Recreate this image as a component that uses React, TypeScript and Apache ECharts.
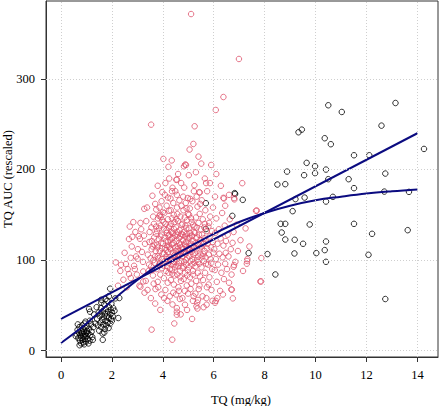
import React, { useEffect, useRef } from "react";
import * as echarts from "echarts";

const xTicks = [0, 2, 4, 6, 8, 10, 12, 14];
const yTicks = [0, 100, 200, 300];

// Black: low-dose group and high-dose scattered points
const blackPoints: [number, number][] = [
  [0.62, 18], [0.65, 23], [0.68, 14], [0.7, 20], [0.72, 26], [0.74, 11], [0.76, 17], [0.78, 22], [0.79, 8], [0.8, 14],
  [0.82, 19], [0.83, 28], [0.85, 12], [0.86, 24], [0.88, 16], [0.9, 21], [0.91, 7], [0.92, 30], [0.94, 13], [0.95, 18],
  [0.97, 25], [0.98, 10], [1.0, 16], [1.02, 22], [1.03, 27], [1.05, 13], [1.07, 19], [1.1, 24], [1.12, 11], [1.15, 17],
  [1.18, 29], [1.2, 21], [1.23, 15], [1.27, 26], [0.58, 16], [0.66, 29], [0.73, 6], [0.87, 9], [0.96, 32], [1.08, 8],
  [1.13, 33], [1.25, 12], [0.84, 20], [0.93, 16], [1.0, 20],
  [1.42, 35], [1.45, 28], [1.48, 42], [1.5, 22], [1.52, 38], [1.55, 31], [1.57, 47], [1.58, 26], [1.6, 40], [1.62, 34],
  [1.63, 19], [1.65, 44], [1.67, 29], [1.68, 37], [1.7, 51], [1.72, 24], [1.73, 41], [1.75, 33], [1.77, 46], [1.78, 28],
  [1.8, 38], [1.82, 55], [1.83, 31], [1.85, 43], [1.87, 25], [1.88, 36], [1.9, 48], [1.92, 40], [1.93, 30], [1.95, 45],
  [1.97, 35], [1.98, 52], [2.0, 42], [2.03, 38], [2.05, 47], [1.64, 12], [1.4, 48], [1.58, 53], [1.75, 57], [1.88, 60],
  [2.1, 44], [2.25, 36], [1.93, 68.4], [2.29, 58.1], [2.13, 57.7], [1.58, 56.2], [1.1, 46], [1.14, 43], [1.35, 30], [1.3, 40],
  [2.0, 33], [1.7, 20],
  [10.5, 270.9], [13.14, 273.4], [11.03, 263.5], [12.59, 248.4], [9.33, 241.1], [9.46, 244], [10.36, 234.5], [10.6, 227.9],
  [14.26, 222.7], [11.51, 215.7], [12.11, 215.7], [9.65, 207.3], [9.98, 203.6], [8.88, 197.7], [10.41, 199.9], [9.98, 195.9],
  [9.55, 193.7], [12.74, 195.5], [10.5, 189.3], [11.3, 189.3], [8.5, 183.4], [8.81, 183.8], [11.51, 179.4], [6.82, 173.9],
  [9.57, 169], [10.68, 169.8], [12.7, 175.6], [13.67, 175.3], [7.14, 166.5], [9.21, 167.3], [10.41, 164.6], [6.73, 148.8],
  [9.1, 154], [8.63, 140], [8.81, 140], [9.77, 139.3], [11.51, 140], [8.67, 130.4], [12.22, 129], [13.62, 133],
  [8.81, 122.7], [9.18, 122.4], [9.51, 118], [10.41, 120.5], [10.36, 111], [7.37, 107.7], [8.11, 106.6], [9.17, 107.3],
  [10.03, 107.7], [12.08, 105.8], [10.41, 98.1], [8.42, 84.1], [12.74, 57], [5.69, 162.8], [5.69, 134.2], [6.84, 173],
];

// Red: mid-dose group
const redPoints: [number, number][] = [
  [5.11, 371.6], [3.54, 249.5], [6.08, 265.7], [5.25, 247.7], [5.2, 228.2], [4.02, 211.7], [5.4, 214.2], [5.51, 206.5],
  [4.22, 202.9], [4.83, 203.5], [4.88, 205.5], [5.02, 193.7], [4.53, 188.5], [5.24, 182.7], [3.98, 175], [4.38, 179.8],
  [4.36, 176], [5.45, 174.5], [4.2, 169], [4.98, 168.5], [5.08, 167.5], [6.99, 322], [6.38, 280], [7.12, 184.9],
  [6.38, 168.7], [6.8, 168.4], [7.66, 154.4], [7.87, 102.2], [7.32, 101], [7.3, 96], [7.83, 76.4], [6.69, 67.6],
  [6.75, 57.7], [6.78, 92.6], [6.8, 94.5], [3.56, 23.2], [4.37, 12.1], [4.55, 43], [4.55, 47], [3.27, 156.6],
  [3.74, 155.8], [4.0, 153], [4.24, 154.4], [4.57, 150.7], [3.86, 148.8], [3.92, 147.5], [2.84, 141.9], [2.67, 123.2],
  [2.8, 125.7], [3.05, 126.5], [3.1, 123.5], [2.15, 97.4], [2.36, 94.8], [2.55, 95.6], [2.87, 93.7], [2.9, 90],
  [3.01, 101.4], [2.45, 78.3], [2.67, 84.6], [2.74, 80.2], [3.08, 71.7], [3.12, 70.5], [3.23, 76.4], [2.24, 71.7],
  [3.23, 87.4], [2.74, 102.5], [6.71, 67.3], [6.05, 52.9], [6.08, 55], [5.72, 50.7], [5.35, 53], [5.38, 56],
  [5.32, 49], [5.36, 46.5], [4.87, 50.7], [4.55, 39.7], [7.86, 76.4], [7.31, 99], [7.69, 154.7], [6.81, 167],
  [6.4, 168], [4.91, 205], [4.55, 189], [5.43, 175],
  [3.02, 112], [3.15, 134], [3.22, 98], [3.3, 118], [3.35, 143], [3.41, 106], [3.44, 88], [3.28, 64], [3.48, 131],
  [3.38, 158], [3.18, 109], [3.46, 95], [3.33, 77], [3.12, 141], [3.47, 120], [3.26, 127], [3.4, 67],
  [3.52, 102], [3.55, 136], [3.58, 89], [3.6, 115], [3.62, 148], [3.64, 74], [3.66, 125], [3.68, 97], [3.7, 162],
  [3.72, 110], [3.53, 58], [3.57, 121], [3.61, 83], [3.65, 140], [3.69, 104], [3.73, 129], [3.54, 93], [3.59, 171],
  [3.67, 117], [3.71, 68], [3.74, 137], [3.56, 112], [3.63, 100],
  [3.76, 90], [3.77, 132], [3.79, 114], [3.8, 76], [3.81, 146], [3.83, 102], [3.84, 123], [3.86, 95], [3.87, 158],
  [3.88, 110], [3.9, 84], [3.91, 138], [3.93, 119], [3.94, 62], [3.95, 101], [3.96, 128], [3.97, 91], [3.98, 144],
  [3.99, 107], [3.78, 117], [3.82, 70], [3.85, 135], [3.89, 97], [3.92, 126], [3.95, 165], [3.97, 113], [3.8, 104],
  [3.9, 150],
  [4.01, 118], [4.02, 94], [4.03, 135], [4.04, 80], [4.05, 107], [4.06, 152], [4.07, 125], [4.08, 99], [4.09, 113],
  [4.1, 67], [4.11, 140], [4.12, 88], [4.13, 121], [4.14, 104], [4.15, 160], [4.16, 130], [4.17, 93], [4.18, 116],
  [4.19, 75], [4.2, 145], [4.21, 109], [4.22, 127], [4.23, 97], [4.24, 136], [4.05, 58], [4.08, 172], [4.12, 111],
  [4.16, 101], [4.2, 120], [4.22, 86], [4.03, 142], [4.14, 133], [4.18, 55], [4.1, 185], [4.24, 115],
  [4.26, 103], [4.27, 138], [4.28, 90], [4.29, 122], [4.3, 112], [4.31, 155], [4.32, 78], [4.33, 131], [4.34, 99],
  [4.35, 117], [4.36, 146], [4.37, 85], [4.38, 125], [4.39, 108], [4.4, 96], [4.41, 163], [4.42, 119], [4.43, 73],
  [4.44, 134], [4.45, 105], [4.46, 142], [4.47, 92], [4.48, 127], [4.49, 114], [4.27, 60], [4.3, 168], [4.33, 101],
  [4.36, 89], [4.4, 130], [4.43, 150], [4.46, 83], [4.28, 113], [4.35, 124], [4.41, 64], [4.47, 106], [4.32, 140],
  [4.38, 51], [4.44, 98], [4.49, 176], [4.26, 128],
  [4.51, 110], [4.52, 136], [4.53, 94], [4.54, 121], [4.55, 101], [4.56, 158], [4.57, 84], [4.58, 128], [4.59, 115],
  [4.6, 143], [4.61, 70], [4.62, 105], [4.63, 124], [4.64, 97], [4.65, 166], [4.66, 133], [4.67, 88], [4.68, 117],
  [4.69, 148], [4.7, 108], [4.71, 77], [4.72, 129], [4.73, 99], [4.74, 139], [4.52, 62], [4.55, 172], [4.58, 112],
  [4.61, 93], [4.64, 119], [4.67, 57], [4.7, 126], [4.73, 160], [4.53, 145], [4.6, 103], [4.66, 110], [4.69, 81],
  [4.72, 185], [4.74, 114], [4.57, 131], [4.63, 66],
  [4.76, 104], [4.77, 140], [4.78, 91], [4.79, 122], [4.8, 112], [4.81, 155], [4.82, 79], [4.83, 131], [4.84, 98],
  [4.85, 118], [4.86, 147], [4.87, 86], [4.88, 126], [4.89, 107], [4.9, 163], [4.91, 95], [4.92, 135], [4.93, 115],
  [4.94, 72], [4.95, 144], [4.96, 102], [4.97, 124], [4.98, 89], [4.99, 151], [4.77, 58], [4.8, 170], [4.83, 109],
  [4.86, 66], [4.89, 138], [4.92, 120], [4.95, 83], [4.97, 110], [4.78, 128], [4.84, 180], [4.9, 100], [4.94, 129],
  [4.99, 63], [4.81, 93], [4.87, 116], [4.93, 157],
  [5.01, 113], [5.02, 135], [5.03, 92], [5.04, 124], [5.05, 104], [5.06, 157], [5.07, 81], [5.08, 130], [5.09, 99],
  [5.1, 118], [5.11, 146], [5.12, 74], [5.13, 109], [5.14, 127], [5.15, 95], [5.16, 165], [5.17, 121], [5.18, 88],
  [5.19, 139], [5.2, 106], [5.21, 60], [5.22, 131], [5.23, 115], [5.24, 97], [5.03, 150], [5.06, 111], [5.09, 68],
  [5.13, 142], [5.16, 101], [5.19, 84], [5.22, 176], [5.05, 126], [5.12, 116], [5.18, 55], [5.24, 137],
  [5.26, 108], [5.27, 130], [5.28, 93], [5.29, 119], [5.3, 147], [5.31, 77], [5.32, 112], [5.33, 136], [5.34, 100],
  [5.35, 125], [5.36, 159], [5.37, 86], [5.38, 117], [5.39, 104], [5.4, 141], [5.41, 68], [5.42, 128], [5.43, 96],
  [5.44, 113], [5.45, 151], [5.46, 82], [5.47, 122], [5.48, 106], [5.49, 134], [5.28, 63], [5.33, 170], [5.38, 98],
  [5.44, 72], [5.31, 124], [5.47, 162],
  [5.51, 115], [5.52, 92], [5.54, 128], [5.55, 104], [5.57, 145], [5.58, 78], [5.6, 118], [5.61, 99], [5.63, 136],
  [5.64, 110], [5.66, 86], [5.67, 155], [5.69, 121], [5.7, 96], [5.72, 132], [5.73, 70], [5.74, 113], [5.53, 166],
  [5.56, 60], [5.62, 124], [5.65, 140], [5.68, 103], [5.71, 58], [5.59, 107], [5.74, 176],
  [5.76, 118], [5.78, 95], [5.79, 137], [5.81, 106], [5.83, 81], [5.84, 126], [5.86, 148], [5.88, 101], [5.89, 114],
  [5.91, 67], [5.93, 132], [5.94, 90], [5.96, 120], [5.97, 158], [5.99, 108], [5.8, 73], [5.85, 185], [5.9, 97],
  [5.95, 55], [5.82, 141],
  [6.02, 112], [6.04, 89], [6.06, 130], [6.08, 101], [6.1, 146], [6.12, 76], [6.15, 118], [6.17, 95], [6.2, 134],
  [6.22, 107], [6.25, 66], [6.27, 124], [6.3, 86], [6.33, 152], [6.35, 103], [6.38, 116], [6.4, 79], [6.43, 138],
  [6.45, 96], [6.48, 121], [6.05, 170], [6.14, 58], [6.28, 182], [6.36, 62], [6.47, 108],
  [6.52, 90], [6.55, 128], [6.58, 104], [6.6, 75], [6.63, 145], [6.67, 112], [6.7, 84], [6.74, 119], [6.78, 131],
  [6.85, 98], [6.9, 139], [6.95, 110], [7.05, 122], [7.15, 88], [7.25, 135], [7.4, 115],
  [2.5, 108], [2.62, 90], [2.78, 115], [2.95, 104], [2.92, 131], [2.58, 70], [2.98, 84], [2.7, 137], [2.33, 88],
  [4.25, 190], [4.6, 195], [5.3, 197], [5.7, 185], [5.9, 205], [3.8, 182], [6.1, 195], [4.35, 210], [5.05, 222],
  [5.65, 190], [6.45, 160], [6.6, 172], [3.9, 45], [4.7, 40], [5.15, 35], [4.95, 45], [5.6, 48], [3.7, 52], [4.45, 30],
];

// Straight (linear) fit, read at its ends
const linearFit: [number, number][] = [[0, 35], [14, 240]];

// Curved (saturating) fit
const curveFitX = [0, 1, 2, 3, 4, 5, 6, 7, 8, 9, 10, 11, 12, 13, 14];
const curveFitY = [8.5, 30, 55, 78, 98, 114, 129, 142, 152, 160, 166, 170, 173.5, 176, 178];

const FONT = "Liberation Serif, Times New Roman, serif";
const AXIS_COLOR = "#333";
const GRID_COLOR = "#cfcfcf";
const LINE_COLOR = "#0b0b80";

export default function App() {
  const ref = useRef<HTMLDivElement>(null);

  useEffect(() => {
    if (!ref.current) return;
    const chart = echarts.init(ref.current, null, { renderer: "svg" });
    const gridMarks = [
      ...xTicks.map((v) => ({ xAxis: v })),
      ...yTicks.map((v) => ({ yAxis: v })),
    ];
    chart.setOption({
      animation: false,
      backgroundColor: "#fff",
      textStyle: { fontFamily: FONT },
      grid: {
        left: 46,
        right: 2,
        top: 1,
        bottom: 49,
        show: true,
        borderColor: AXIS_COLOR,
        borderWidth: 1,
        backgroundColor: "transparent",
      },
      xAxis: {
        type: "value",
        min: -0.59,
        max: 14.81,
        axisLine: { show: true, onZero: false, lineStyle: { color: AXIS_COLOR } },
        axisTick: {
          show: true,
          inside: false,
          length: 5,
          customValues: xTicks,
          lineStyle: { color: AXIS_COLOR },
        },
        axisLabel: {
          customValues: xTicks,
          margin: 11,
          color: "#000",
          fontSize: 12.5,
          fontFamily: FONT,
        },
        splitLine: { show: false },
      },
      yAxis: {
        type: "value",
        min: -7,
        max: 386,
        axisLine: { show: true, onZero: false, lineStyle: { color: AXIS_COLOR } },
        axisTick: {
          show: true,
          inside: false,
          length: 5,
          customValues: yTicks,
          lineStyle: { color: AXIS_COLOR },
        },
        axisLabel: {
          customValues: yTicks,
          margin: 11,
          color: "#000",
          fontSize: 12.5,
          fontFamily: FONT,
        },
        splitLine: { show: false },
      },
      graphic: [
        {
          type: "text",
          x: 241,
          y: 400,
          style: {
            text: "TQ (mg/kg)",
            font: `12.5px ${FONT}`,
            fill: "#000",
            align: "center",
            verticalAlign: "middle",
            textAlign: "center",
            textVerticalAlign: "middle",
          },
        },
        {
          type: "text",
          x: 8,
          y: 179,
          rotation: Math.PI / 2,
          style: {
            text: "TQ AUC (rescaled)",
            font: `12.5px ${FONT}`,
            fill: "#000",
            align: "center",
            verticalAlign: "middle",
            textAlign: "center",
            textVerticalAlign: "middle",
          },
        },
      ],
      series: [
        {
          type: "line",
          data: [],
          z: 1,
          silent: true,
          markLine: {
            silent: true,
            symbol: ["none", "none"],
            label: { show: false },
            lineStyle: { color: GRID_COLOR, type: [1, 2], width: 1 },
            emphasis: { disabled: true },
            data: gridMarks,
          },
        },
        {
          type: "scatter",
          data: blackPoints,
          z: 2,
          symbol: "circle",
          symbolSize: 5.5,
          itemStyle: { color: "rgba(0,0,0,0)", borderColor: "#000", borderWidth: 1 },
        },
        {
          type: "scatter",
          data: redPoints,
          z: 2,
          symbol: "circle",
          symbolSize: 5.5,
          itemStyle: { color: "rgba(0,0,0,0)", borderColor: "#DF536B", borderWidth: 1 },
        },
        {
          type: "line",
          data: linearFit,
          z: 3,
          showSymbol: false,
          symbol: "none",
          lineStyle: { color: LINE_COLOR, width: 2 },
        },
        {
          type: "line",
          data: curveFitX.map((x, i) => [x, curveFitY[i]]),
          z: 3,
          smooth: 0.4,
          showSymbol: false,
          symbol: "none",
          lineStyle: { color: LINE_COLOR, width: 2 },
        },
      ],
    });
    return () => chart.dispose();
  }, []);

  return (
    <div
      ref={ref}
      style={{ position: "absolute", left: 0, top: 0, width: 440, height: 406, background: "#fff" }}
    />
  );
}
